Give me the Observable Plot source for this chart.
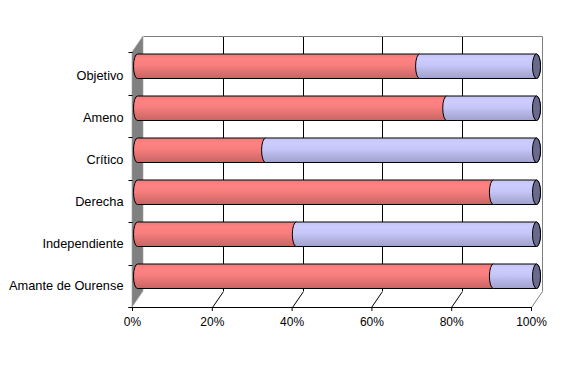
<!DOCTYPE html>
<html><head><meta charset="utf-8">
<script src="https://cdn.jsdelivr.net/npm/d3@7"></script>
<script src="https://cdn.jsdelivr.net/npm/@observablehq/plot@0.6"></script>
<style>body{margin:0;background:#fff} svg{display:block}</style>
</head><body><div id="chart"></div>
<script>
const categories = ["Objetivo", "Ameno", "Crítico", "Derecha", "Independiente", "Amante de Ourense"];
const redValues = [70.7, 77.5, 32.1, 89.2, 39.8, 89.2];
const blueValues = [29.3, 22.5, 67.9, 10.8, 60.2, 10.8];
const xTicks = [0, 20, 40, 60, 80, 100];

const redRows = categories.map((c, i) => ({cat: c, x1: 0, x2: redValues[i]}));
const blueRows = categories.map((c, i) => ({cat: c, x1: redValues[i], x2: redValues[i] + blueValues[i]}));

// 3D depth offsets (pixels)
const DX = 11, DY = -16;
const BDX = DX / 2, BDY = -8.75;

function walls(index, scales, values, dims) {
  const x = scales.x;
  const yT = dims.marginTop, yB = dims.height - dims.marginBottom;
  const px = v => Math.round(x(v)) + 0.5;
  const x0 = px(0), x100 = px(100);
  const g = d3.create("svg:g");
  // back wall gridlines
  for (const t of xTicks.slice(1, -1)) {
    g.append("line").attr("x1", px(t) + DX).attr("x2", px(t) + DX)
      .attr("y1", yT + DY).attr("y2", yB + DY).attr("stroke", "black");
  }
  // floor diagonals
  for (const t of xTicks.slice(1, -1)) {
    g.append("line").attr("x1", px(t)).attr("y1", yB + 0.5)
      .attr("x2", px(t) + DX).attr("y2", yB + DY + 0.5).attr("stroke", "black");
  }
  // back wall border (top, right) and right floor edge
  g.append("polyline")
    .attr("points", `${x0 + DX},${yT + DY + 0.5} ${x100 + DX},${yT + DY + 0.5} ${x100 + DX},${yB + DY + 0.5} ${x100},${yB + 0.5}`)
    .attr("fill", "none").attr("stroke", "#808080");
  // left side wall
  g.append("polygon")
    .attr("points", `${x0 - 0.5},${yT} ${x0 - 0.5 + DX},${yT + DY} ${x0 - 0.5 + DX},${yB + DY} ${x0 - 0.5},${yB}`)
    .attr("fill", "#808080").attr("stroke", "#a0a0a0").attr("stroke-width", 0.6);
  // y ticks at category boundaries
  const n = categories.length;
  for (let i = 0; i <= n; i++) {
    const yy = Math.round(yT + i * (yB - yT) / n) + 0.5;
    g.append("line").attr("x1", x0 - 4).attr("x2", x0).attr("y1", yy).attr("y2", yy).attr("stroke", "black");
  }
  // x axis line
  g.append("line").attr("x1", x0 - 4).attr("x2", x100).attr("y1", yB + 0.5).attr("y2", yB + 0.5).attr("stroke", "black");
  return g.node();
}

const barCommon = {
  y: "cat", stroke: "black", strokeWidth: 1,
  rx: 4, ry: 12.5,
  insetTop: 8.75, insetBottom: 8.75,
  dx: BDX, dy: BDY
};

const plot = Plot.plot({
  width: 566, height: 365,
  marginTop: 52, marginBottom: 58, marginLeft: 132, marginRight: 35,
  x: {domain: [0, 100], label: null},
  y: {domain: categories, padding: 0, label: null},
  style: {fontFamily: "'Liberation Sans', Arial, sans-serif", fontSize: "12px", background: "white", color: "black"},
  marks: [
    walls,
    Plot.axisX(xTicks, {tickFormat: d => d + "%", tickSize: 4, tickPadding: 6, fontSize: 12, label: null}),
    Plot.barX(redRows, {...barCommon, x1: "x1", x2: "x2", fill: "url(#gRed)", insetLeft: -4, insetRight: -4}),
    Plot.barX(blueRows, {...barCommon, x1: "x1", x2: "x2", fill: "url(#gBlue)", insetLeft: -4, insetRight: -4}),
    Plot.barX(blueRows, {...barCommon, x1: "x2", x2: "x2", fill: "#6a6a8c", insetLeft: -4, insetRight: -4}),
    Plot.axisY({tickSize: 0, tickPadding: 9, fontSize: 12.8, label: null})
  ]
});

d3.select(plot).insert("defs", ":first-child").html(`
  <linearGradient id="gRed" x1="0" y1="0" x2="0" y2="1">
    <stop offset="0" stop-color="#f07a7a"/>
    <stop offset="0.2" stop-color="#ff8282"/>
    <stop offset="0.45" stop-color="#f87e7e"/>
    <stop offset="1" stop-color="#c86464"/>
  </linearGradient>
  <linearGradient id="gBlue" x1="0" y1="0" x2="0" y2="1">
    <stop offset="0" stop-color="#c4c4f4"/>
    <stop offset="0.2" stop-color="#ccccff"/>
    <stop offset="0.45" stop-color="#c6c6f8"/>
    <stop offset="1" stop-color="#a0a0cc"/>
  </linearGradient>
`);

document.getElementById("chart").appendChild(plot);
</script>
</body></html>
